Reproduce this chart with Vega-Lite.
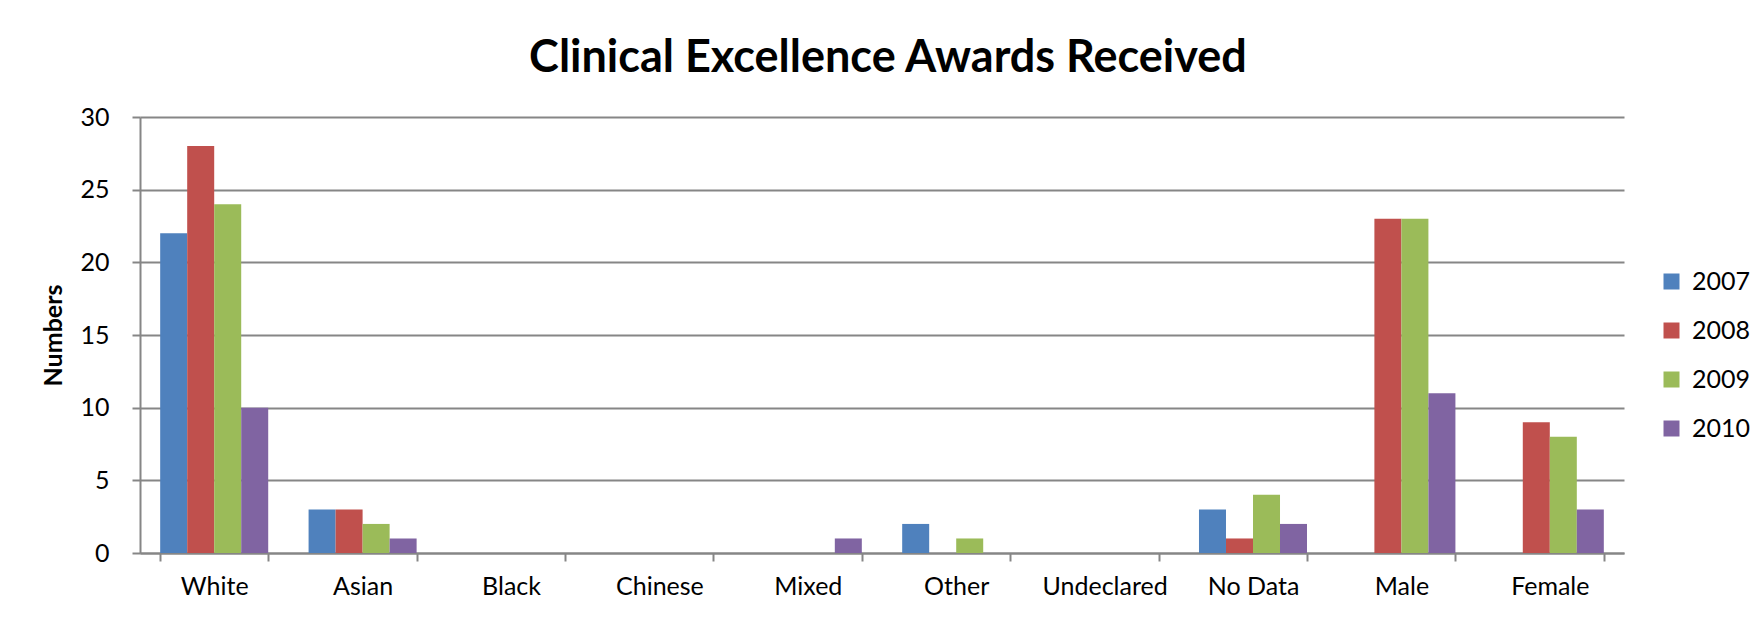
{
  "$schema": "https://vega.github.io/schema/vega-lite/v6.json",
  "width": 1484,
  "height": 436,
  "autosize": {"type": "none"},
  "padding": {"left": 140, "top": 117, "right": 136, "bottom": 67},
  "background": "white",
  "title": {
    "text": "Clinical Excellence Awards Received",
    "anchor": "middle",
    "frame": "group",
    "font": "Lato",
    "fontSize": 45,
    "fontWeight": "bold",
    "color": "#000000",
    "offset": 24,
    "dx": 6
  },
  "data": {
    "values": [
      {"group": "White", "year": "2007", "value": 22},
      {"group": "White", "year": "2008", "value": 28},
      {"group": "White", "year": "2009", "value": 24},
      {"group": "White", "year": "2010", "value": 10},
      {"group": "Asian", "year": "2007", "value": 3},
      {"group": "Asian", "year": "2008", "value": 3},
      {"group": "Asian", "year": "2009", "value": 2},
      {"group": "Asian", "year": "2010", "value": 1},
      {"group": "Black", "year": "2007", "value": 0},
      {"group": "Black", "year": "2008", "value": 0},
      {"group": "Black", "year": "2009", "value": 0},
      {"group": "Black", "year": "2010", "value": 0},
      {"group": "Chinese", "year": "2007", "value": 0},
      {"group": "Chinese", "year": "2008", "value": 0},
      {"group": "Chinese", "year": "2009", "value": 0},
      {"group": "Chinese", "year": "2010", "value": 0},
      {"group": "Mixed", "year": "2007", "value": 0},
      {"group": "Mixed", "year": "2008", "value": 0},
      {"group": "Mixed", "year": "2009", "value": 0},
      {"group": "Mixed", "year": "2010", "value": 1},
      {"group": "Other", "year": "2007", "value": 2},
      {"group": "Other", "year": "2008", "value": 0},
      {"group": "Other", "year": "2009", "value": 1},
      {"group": "Other", "year": "2010", "value": 0},
      {"group": "Undeclared", "year": "2007", "value": 0},
      {"group": "Undeclared", "year": "2008", "value": 0},
      {"group": "Undeclared", "year": "2009", "value": 0},
      {"group": "Undeclared", "year": "2010", "value": 0},
      {"group": "No Data", "year": "2007", "value": 3},
      {"group": "No Data", "year": "2008", "value": 1},
      {"group": "No Data", "year": "2009", "value": 4},
      {"group": "No Data", "year": "2010", "value": 2},
      {"group": "Male", "year": "2007", "value": 0},
      {"group": "Male", "year": "2008", "value": 23},
      {"group": "Male", "year": "2009", "value": 23},
      {"group": "Male", "year": "2010", "value": 11},
      {"group": "Female", "year": "2007", "value": 0},
      {"group": "Female", "year": "2008", "value": 9},
      {"group": "Female", "year": "2009", "value": 8},
      {"group": "Female", "year": "2010", "value": 3}
    ]
  },
  "mark": {"type": "bar"},
  "encoding": {
    "x": {
      "field": "group",
      "type": "nominal",
      "sort": ["White", "Asian", "Black", "Chinese", "Mixed", "Other", "Undeclared", "No Data", "Male", "Female"],
      "scale": {"paddingInner": 0.272, "paddingOuter": 0.136},
      "axis": {
        "title": null,
        "labelAngle": 0,
        "tickBand": "extent",
        "grid": false,
        "domainColor": "#868686",
        "domainWidth": 2,
        "tickColor": "#868686",
        "tickWidth": 2,
        "tickSize": 8,
        "labelFont": "Lato",
        "labelFontSize": 25,
        "labelColor": "#000000",
        "labelPadding": 13
      }
    },
    "xOffset": {
      "field": "year",
      "type": "nominal",
      "scale": {"paddingInner": 0, "paddingOuter": 0}
    },
    "y": {
      "field": "value",
      "type": "quantitative",
      "scale": {"domain": [0, 30], "nice": false},
      "axis": {
        "title": "Numbers",
        "values": [0, 5, 10, 15, 20, 25, 30],
        "grid": true,
        "gridColor": "#868686",
        "gridWidth": 2,
        "domainColor": "#868686",
        "domainWidth": 2,
        "tickColor": "#868686",
        "tickWidth": 2,
        "tickSize": 8,
        "labelFont": "Lato",
        "labelFontSize": 25,
        "labelColor": "#000000",
        "labelPadding": 23,
        "titleFont": "Lato",
        "titleFontSize": 25,
        "titleFontWeight": "bold",
        "titleColor": "#000000",
        "titlePadding": 13
      }
    },
    "color": {
      "field": "year",
      "type": "nominal",
      "scale": {
        "domain": ["2007", "2008", "2009", "2010"],
        "range": ["#4F81BD", "#C0504D", "#9BBB59", "#8064A2"]
      },
      "legend": {
        "title": null,
        "orient": "none",
        "legendX": 1519,
        "legendY": 152,
        "symbolType": "square",
        "symbolSize": 256,
        "symbolStrokeWidth": 0,
        "labelFont": "Lato",
        "labelFontSize": 25,
        "labelColor": "#000000",
        "labelOffset": 8,
        "rowPadding": 23
      }
    }
  },
  "config": {"view": {"stroke": null}}
}
